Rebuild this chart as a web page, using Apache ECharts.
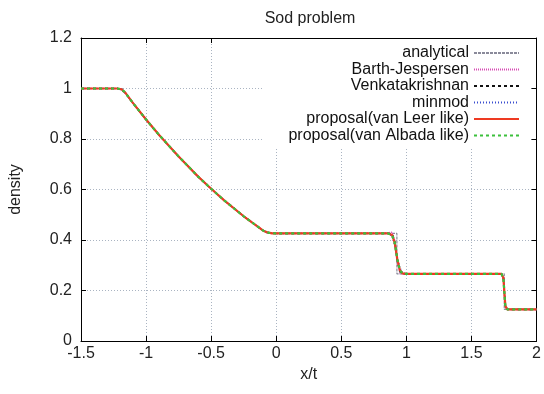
<!DOCTYPE html>
<html>
<head>
<meta charset="utf-8">
<script src="https://cdn.jsdelivr.net/npm/echarts@6/dist/echarts.min.js"></script>
<style>
  html, body { margin: 0; padding: 0; background: #fff; }
  #chart { width: 544px; height: 394px; }
</style>
</head>
<body>
<div id="chart"></div>
<script>
// exact solution
const xExact = [-1.5, -1.183, -1.1, -1.0, -0.9, -0.75, -0.6, -0.5, -0.4, -0.25, -0.1, -0.07, 0.927, 0.927, 1.752, 1.752, 2.0];
const rhoExact = [1.0, 1.0, 0.942, 0.877, 0.816, 0.731, 0.651, 0.603, 0.557, 0.494, 0.437, 0.426, 0.426, 0.266, 0.266, 0.125, 0.125];

// numerical results share one x grid
const xNum = [-1.5, -1.22, -1.19, -1.16, -1.1, -1.0, -0.9, -0.75, -0.6, -0.5, -0.4, -0.25, -0.1, -0.06, -0.03, 0.0, 0.86, 0.89, 0.91, 0.93, 0.95, 0.97, 1.0, 1.73, 1.745, 1.76, 1.775, 2.0];
const rhoBarth = [1.0, 1.0, 0.997, 0.984, 0.942, 0.877, 0.816, 0.731, 0.651, 0.603, 0.557, 0.494, 0.437, 0.428, 0.426, 0.426, 0.428, 0.431, 0.40, 0.31, 0.27, 0.265, 0.266, 0.266, 0.255, 0.135, 0.125, 0.125];
const rhoVenkat = [1.0, 1.0, 0.996, 0.983, 0.942, 0.877, 0.816, 0.731, 0.651, 0.603, 0.557, 0.494, 0.437, 0.429, 0.427, 0.426, 0.426, 0.424, 0.395, 0.32, 0.275, 0.267, 0.266, 0.266, 0.25, 0.14, 0.125, 0.125];
const rhoMinmod = [1.0, 1.0, 0.994, 0.98, 0.941, 0.877, 0.816, 0.731, 0.651, 0.603, 0.557, 0.494, 0.438, 0.43, 0.427, 0.426, 0.426, 0.415, 0.38, 0.33, 0.29, 0.27, 0.266, 0.266, 0.245, 0.145, 0.126, 0.125];
const rhoVanLeer = [1.0, 1.0, 0.997, 0.984, 0.942, 0.877, 0.816, 0.731, 0.651, 0.603, 0.557, 0.494, 0.437, 0.429, 0.426, 0.426, 0.426, 0.42, 0.39, 0.325, 0.28, 0.268, 0.266, 0.266, 0.25, 0.14, 0.125, 0.125];
const rhoVanAlbada = [1.0, 1.0, 0.997, 0.984, 0.942, 0.877, 0.816, 0.731, 0.651, 0.603, 0.557, 0.494, 0.437, 0.429, 0.426, 0.426, 0.426, 0.42, 0.39, 0.325, 0.28, 0.268, 0.266, 0.266, 0.25, 0.14, 0.125, 0.125];

const seriesNames = ['analytical', 'Barth-Jespersen', 'Venkatakrishnan', 'minmod', 'proposal(van Leer like)', 'proposal(van Albada like)'];

const zip = (xs, ys) => xs.map((x, i) => [x, ys[i]]);
const font = 'Liberation Sans, Arial, sans-serif';

const chart = echarts.init(document.getElementById('chart'));

function line(name, xs, ys, color, type, width, z) {
    return {
        name: name,
        type: 'line',
        data: zip(xs, ys),
        symbol: 'none',
        showSymbol: false,
        animation: false,
        z: z,
        itemStyle: { color: color },
        lineStyle: { color: color, type: type, width: width }
    };
}

const option = {
    animation: false,
    title: {
        text: 'Sod problem',
        left: 305,
        top: 6,
        textAlign: 'center',
        textStyle: { fontFamily: font, fontSize: 16, fontWeight: 'normal', color: '#222' }
    },
    legend: {
        orient: 'vertical',
        align: 'right',
        right: 14,
        top: 39,
        padding: [6, 10, 4, 25],
        backgroundColor: '#fff',
        itemWidth: 45,
        itemHeight: 10,
        itemGap: 0.5,
        z: 5,
        itemStyle: { opacity: 0 },
        textStyle: { fontFamily: font, fontSize: 16, lineHeight: 16, color: '#111' },
        data: seriesNames
    },
    grid: { left: 72, right: 5, top: 38, bottom: 53 },
    xAxis: [
        {
            type: 'value',
            min: -1.5,
            max: 2,
            interval: 0.5,
            name: 'x/t',
            nameLocation: 'middle',
            nameGap: 24,
            nameTextStyle: { fontFamily: font, fontSize: 16, color: '#222' },
            axisLine: { onZero: false, lineStyle: { color: '#000', width: 1 } },
            axisTick: { inside: true, length: 5, lineStyle: { color: '#000' } },
            axisLabel: { fontFamily: font, fontSize: 16, color: '#222', margin: 5 },
            splitLine: { show: true, lineStyle: { color: '#aab4c2', type: [1, 2], width: 1 } }
        },
        {
            type: 'value',
            position: 'top',
            min: -1.5,
            max: 2,
            interval: 0.5,
            axisLine: { onZero: false, lineStyle: { color: '#000', width: 1 } },
            axisTick: { inside: true, length: 5, lineStyle: { color: '#000' } },
            axisLabel: { show: false },
            splitLine: { show: false }
        }
    ],
    yAxis: [
        {
            type: 'value',
            min: 0,
            max: 1.2,
            interval: 0.2,
            name: 'density',
            nameLocation: 'middle',
            nameGap: 57,
            nameRotate: 90,
            nameTextStyle: { fontFamily: font, fontSize: 16, color: '#222' },
            axisLine: { show: true, onZero: false, lineStyle: { color: '#000', width: 1 } },
            axisTick: { show: true, inside: true, length: 5, lineStyle: { color: '#000' } },
            axisLabel: { fontFamily: font, fontSize: 16, color: '#222', margin: 9 },
            splitLine: { show: true, lineStyle: { color: '#aab4c2', type: [1, 2], width: 1 } }
        },
        {
            type: 'value',
            position: 'right',
            min: 0,
            max: 1.2,
            interval: 0.2,
            axisLine: { show: true, onZero: false, lineStyle: { color: '#000', width: 1 } },
            axisTick: { show: true, inside: true, length: 5, lineStyle: { color: '#000' } },
            axisLabel: { show: false },
            splitLine: { show: false }
        }
    ],
    series: [
        line(seriesNames[0], xExact, rhoExact, '#8a8a9a', [3, 1], 1.2, 2),
        line(seriesNames[1], xNum, rhoBarth, '#d84cb4', [1, 1], 1.5, 3),
        line(seriesNames[2], xNum, rhoVenkat, '#111111', [3, 3], 1.5, 3),
        line(seriesNames[3], xNum, rhoMinmod, '#3a4ed0', [1, 2], 1.5, 3),
        line(seriesNames[4], xNum, rhoVanLeer, '#ee3a22', 'solid', 2.2, 4),
        line(seriesNames[5], xNum, rhoVanAlbada, '#3cc03c', [3, 3], 2.2, 5)
    ]
};

chart.setOption(option);
</script>
</body>
</html>
